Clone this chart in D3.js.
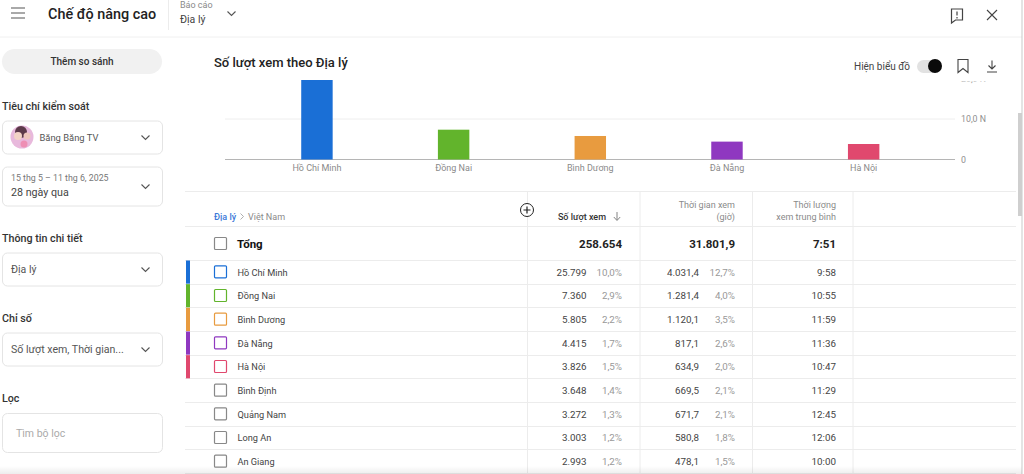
<!DOCTYPE html>
<html>
<head>
<meta charset="utf-8">
<script src="https://cdn.jsdelivr.net/npm/d3@7"></script>
<style>
    html, body { margin: 0; padding: 0; background: #fff; overflow: hidden; }
    svg { display: block; font-family: Roboto, sans-serif; }
</style>
</head>
<body>
<svg id="chart" width="1024" height="474"></svg>
<script>
const regions = ['Hồ Chí Minh', 'Đồng Nai', 'Bình Dương', 'Đà Nẵng', 'Hà Nội', 'Bình Định', 'Quảng Nam', 'Long An', 'An Giang'];
const views = [25799, 7360, 5805, 4415, 3826, 3648, 3272, 3003, 2993];
const viewsPct = ['10,0%', '2,9%', '2,2%', '1,7%', '1,5%', '1,4%', '1,3%', '1,2%', '1,2%'];
const hours = ['4.031,4', '1.281,4', '1.120,1', '817,1', '634,9', '669,5', '671,7', '580,8', '478,1'];
const hoursPct = ['12,7%', '4,0%', '3,5%', '2,6%', '2,0%', '2,1%', '2,1%', '1,8%', '1,5%'];
const durations = ['9:58', '10:55', '11:59', '11:36', '10:47', '11:29', '12:45', '12:06', '10:00'];
const colors = ['#1a6fd6', '#62b42c', '#e89b3f', '#8f38c0', '#e0486e'];
const yTicks = [0, 10000, 20000];
const yTickLabels = ['0', '10,0 N', '20,0 N'];

const svg = d3.select('#chart');
const LINE = '#ececec';

function label(x, y, str, size, fill, weight = 400, anchor = 'start') {
    return svg.append('text')
        .attr('x', x).attr('y', y)
        .attr('dominant-baseline', 'central')
        .attr('text-anchor', anchor)
        .attr('font-size', size)
        .attr('font-weight', weight)
        .attr('fill', fill)
        .text(str);
}

function hline(x1, x2, y, color = LINE) {
    svg.append('line').attr('x1', x1).attr('x2', x2).attr('y1', y).attr('y2', y).attr('stroke', color);
}

function vline(x, y1, y2, color = LINE) {
    svg.append('line').attr('x1', x).attr('x2', x).attr('y1', y1).attr('y2', y2).attr('stroke', color);
}

function icon(d, x, y, color = '#444', width = 1.1) {
    svg.append('path').attr('d', d).attr('transform', `translate(${x},${y})`)
        .attr('fill', 'none').attr('stroke', color).attr('stroke-width', width);
}

const chevron = 'M-4,-2 L0,2 L4,-2';

// top bar
icon('M0,0H14M0,5H14M0,10H14', 11, 8, '#555');
label(48, 14, 'Chế độ nâng cao', 14.4, '#222', 500);
vline(168.5, 0, 30);
label(180, 5, 'Báo cáo', 9, '#8a8a8a');
label(180, 19.5, 'Địa lý', 10.5, '#444');
icon(chevron, 231.5, 13.5, '#555');
icon('M0,0H11V11H4L0,14Z M5.5,2.5V6.5 M5.5,8V9.5', 951.5, 9, '#444', 1.2);
icon('M0,0L10,10M10,0L0,10', 987, 10, '#444', 1.1);
hline(0, 1022, 37, '#f0f0f0');

// left panel
svg.append('rect').attr('x', 2).attr('y', 49).attr('width', 160).attr('height', 25).attr('rx', 12.5).attr('fill', '#f1f1f1');
label(82, 61.5, 'Thêm so sánh', 10, '#333', 500, 'middle');

function selectBox(y, h, arrow = true) {
    svg.append('rect').attr('x', 2.5).attr('y', y).attr('width', 160).attr('height', h).attr('rx', 5)
        .attr('fill', '#fff').attr('stroke', '#e4e4e4');
    if (arrow) icon(chevron, 145.5, y + h / 2, '#555');
}

label(2, 106, 'Tiêu chí kiểm soát', 10.7, '#333', 500);
selectBox(121, 33);
svg.append('circle').attr('cx', 22).attr('cy', 137).attr('r', 11.5).attr('fill', '#e8b9dc');
svg.append('circle').attr('cx', 21).attr('cy', 132).attr('r', 6).attr('fill', '#5c3a4a');
svg.append('circle').attr('cx', 18).attr('cy', 136).attr('r', 4).attr('fill', '#f3d3c6');
svg.append('circle').attr('cx', 27).attr('cy', 136).attr('r', 3.5).attr('fill', '#eec6bd');
svg.append('circle').attr('cx', 24).attr('cy', 144).attr('r', 3.5).attr('fill', '#ee8fb4');
label(39.5, 137.5, 'Băng Băng TV', 9.4, '#555');

selectBox(167, 39);
label(11, 177.5, '15 thg 5 – 11 thg 6, 2025', 8.8, '#777');
label(11, 192, '28 ngày qua', 10.7, '#444');

label(2, 238, 'Thông tin chi tiết', 10.7, '#333', 500);
selectBox(253, 33);
label(11, 269, 'Địa lý', 10.5, '#555');

label(2, 318, 'Chỉ số', 10.7, '#333', 500);
selectBox(333, 33);
label(11, 349, 'Số lượt xem, Thời gian...', 10.6, '#555');

label(2, 398, 'Lọc', 10.7, '#333', 500);
selectBox(413.5, 39, false);
label(16, 433, 'Tìm bộ lọc', 10.5, '#aaa');

// chart header
label(214, 62.5, 'Số lượt xem theo Địa lý', 13, '#222', 500);
label(854, 66, 'Hiện biểu đồ', 10, '#444');
svg.append('rect').attr('x', 917).attr('y', 60).attr('width', 22).attr('height', 13).attr('rx', 6.5).attr('fill', '#e2e2e2');
svg.append('circle').attr('cx', 935).attr('cy', 66).attr('r', 7).attr('fill', '#0a0a0a');
icon('M0,0H10V13L5,9L0,13Z', 958, 59.5, '#444');
icon('M5,0V8M1.5,5L5,8.5L8.5,5M0,11.5H10', 987, 60.5, '#444');

// bar chart, the top of it is cut off by the header
const x = d3.scaleBand().domain(regions.slice(0, 5)).range([248.6, 932]).paddingInner(0.77).paddingOuter(0.385);
const y = d3.scaleLinear().domain([0, 10000]).range([159.5, 119]);

svg.append('clipPath').attr('id', 'plot-clip')
    .append('rect').attr('x', 200).attr('y', 80).attr('width', 800).attr('height', 100);
svg.append('clipPath').attr('id', 'tick-clip')
    .append('rect').attr('x', 200).attr('y', 81.5).attr('width', 800).attr('height', 100);

const plot = svg.append('g').attr('clip-path', 'url(#plot-clip)');
const tickLayer = svg.append('g').attr('clip-path', 'url(#tick-clip)');

plot.selectAll('line.grid')
    .data(yTicks)
    .enter().append('line')
    .attr('class', 'grid')
    .attr('x1', 225).attr('x2', 955)
    .attr('y1', d => y(d)).attr('y2', d => y(d))
    .attr('stroke', d => d === 0 ? '#b5b5b5' : '#eeeeee');

plot.selectAll('rect.bar')
    .data(regions.slice(0, 5))
    .enter().append('rect')
    .attr('class', 'bar')
    .attr('x', d => x(d))
    .attr('width', x.bandwidth())
    .attr('y', (d, i) => y(views[i]))
    .attr('height', (d, i) => y(0) - y(views[i]))
    .attr('fill', (d, i) => colors[i]);

tickLayer.selectAll('text.tick')
    .data(yTicks)
    .enter().append('text')
    .attr('class', 'tick')
    .attr('x', 961)
    .attr('y', d => y(d))
    .attr('dominant-baseline', 'central')
    .attr('font-size', 8.8)
    .attr('fill', '#8f8f8f')
    .text((d, i) => yTickLabels[i]);

svg.selectAll('text.cat')
    .data(regions.slice(0, 5))
    .enter().append('text')
    .attr('class', 'cat')
    .attr('x', d => x(d) + x.bandwidth() / 2)
    .attr('y', 168)
    .attr('text-anchor', 'middle')
    .attr('dominant-baseline', 'central')
    .attr('font-size', 9)
    .attr('fill', '#8a8a8a')
    .text(d => d);

// table
const rowY = d3.scaleLinear().domain([0, 9]).range([260, 473]);
const colX = [527.5, 640, 752.5, 853];

hline(185, 1016, 191.5);
hline(185, 1016, 226.5);
d3.range(0, 10).forEach(i => hline(185, 1016, Math.round(rowY(i)) + 0.5));
colX.forEach(c => vline(c, 192, 474));

svg.append('circle').attr('cx', 527).attr('cy', 210).attr('r', 6.5).attr('fill', '#fff').attr('stroke', '#222');
icon('M-3.5,0H3.5M0,-3.5V3.5', 527, 210, '#222', 1.2);

label(214, 216.5, 'Địa lý', 9, '#3b78d8', 500);
icon('M0,0L3,3L0,6', 240.5, 213.5, '#999', 0.8);
label(248, 216.5, 'Việt Nam', 9, '#8a8a8a');
label(606, 216.5, 'Số lượt xem', 9, '#333', 500, 'end');
icon('M4,0V8M0.8,5L4,8.5L7.2,5', 613, 212, '#777', 0.9);
label(735, 205, 'Thời gian xem', 9, '#8a8a8a', 400, 'end');
label(735, 216.5, '(giờ)', 9, '#8a8a8a', 400, 'end');
label(836, 205, 'Thời lượng', 9, '#8a8a8a', 400, 'end');
label(836, 216.5, 'xem trung bình', 9, '#8a8a8a', 400, 'end');

svg.append('rect').attr('x', 214.5).attr('y', 237.5).attr('width', 12).attr('height', 12).attr('rx', 1)
    .attr('fill', 'none').attr('stroke', '#888').attr('stroke-width', 1.2);
label(237, 244, 'Tổng', 11.5, '#111', 700);
label(622, 244, '258.654', 11.5, '#222', 700, 'end');
label(735, 244, '31.801,9', 11.5, '#222', 700, 'end');
label(836, 244, '7:51', 11.5, '#222', 700, 'end');

const rows = svg.selectAll('g.row')
    .data(regions)
    .enter().append('g')
    .attr('class', 'row')
    .attr('transform', (d, i) => `translate(0,${rowY(i)})`);

const rowH = rowY(1) - rowY(0);

rows.filter((d, i) => i < 5).append('rect')
    .attr('x', 186).attr('y', 0.5)
    .attr('width', 4).attr('height', rowH - 0.5)
    .attr('fill', (d, i) => colors[i]);

rows.append('rect')
    .attr('x', 214.5).attr('y', rowH / 2 - 6)
    .attr('width', 12).attr('height', 12).attr('rx', 1)
    .attr('fill', 'none')
    .attr('stroke', (d, i) => colors[i] || '#888')
    .attr('stroke-width', 1.2);

function cell(values, xPos, color, anchor = 'end', size = 9.8) {
    rows.append('text')
        .attr('x', xPos)
        .attr('y', rowH / 2 + 0.3)
        .attr('dominant-baseline', 'central')
        .attr('text-anchor', anchor)
        .attr('font-size', size)
        .attr('fill', color)
        .text((d, i) => values[i]);
}

cell(regions, 237.5, '#444', 'start', 9.2);
cell(views.map(v => d3.format(',')(v).replace(/,/g, '.')), 586.5, '#444');
cell(viewsPct, 622, '#999');
cell(hours, 699, '#444');
cell(hoursPct, 735, '#999');
cell(durations, 836, '#444');

// scrollbar and bottom fade
vline(1022, 0, 474, '#c9c9c9');
svg.append('rect').attr('x', 1018).attr('y', 113).attr('width', 4).attr('height', 103).attr('fill', '#cfcfcf');
const defs = svg.append('defs');
const fade = defs.append('linearGradient').attr('id', 'fade').attr('x1', 0).attr('x2', 0).attr('y1', 0).attr('y2', 1);
fade.append('stop').attr('offset', 0).attr('stop-color', '#000').attr('stop-opacity', 0);
fade.append('stop').attr('offset', 1).attr('stop-color', '#000').attr('stop-opacity', 0.07);
svg.append('rect').attr('x', 0).attr('y', 466).attr('width', 1022).attr('height', 8).attr('fill', 'url(#fade)');
</script>
</body>
</html>
